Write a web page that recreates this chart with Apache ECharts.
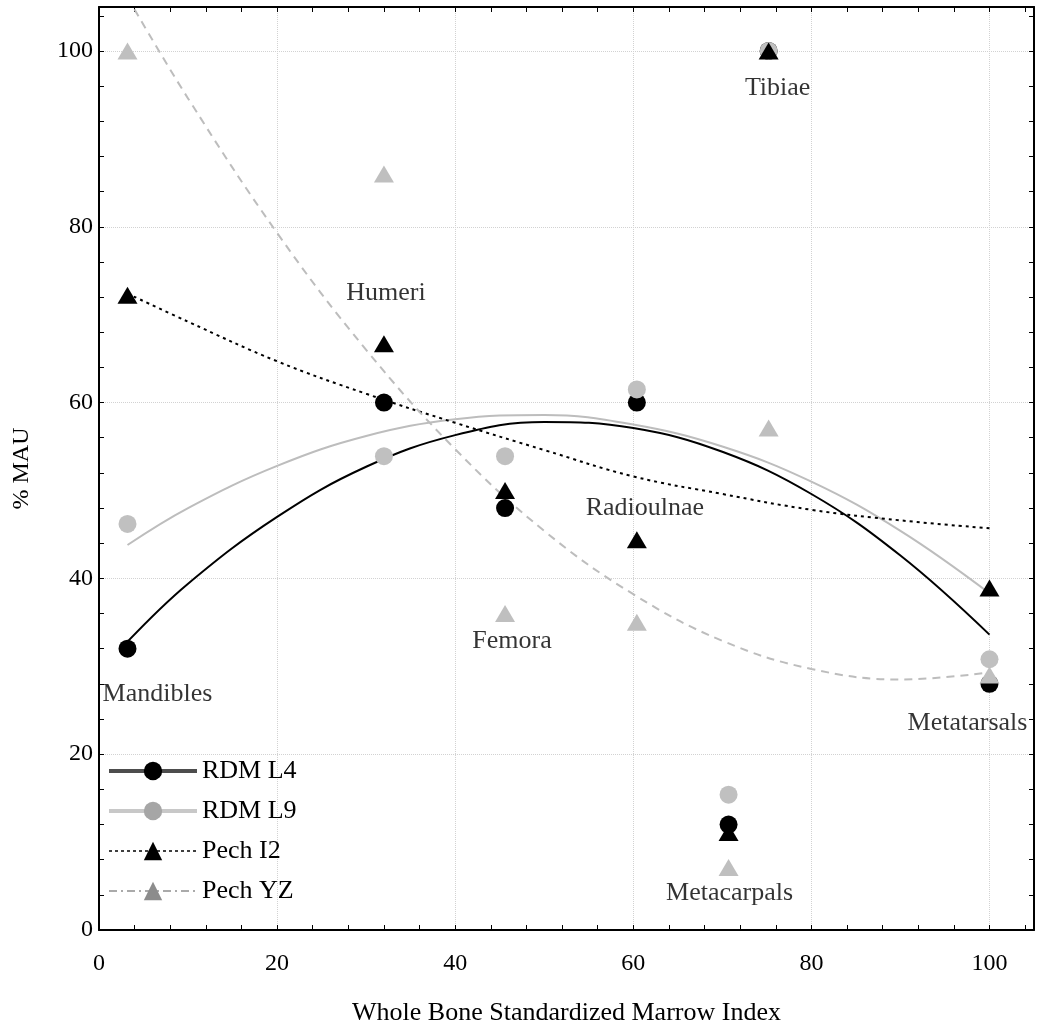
<!DOCTYPE html>
<html>
<head>
<meta charset="utf-8">
<script src="https://cdn.jsdelivr.net/npm/echarts@6/dist/echarts.min.js"></script>
<style>
html,body{margin:0;padding:0;background:#fff;}
#chart{width:1037px;height:1029px;}
</style>
</head>
<body>
<div id="chart"></div>
<script>
// ---- data ----
const bones = ['Mandibles', 'Humeri', 'Femora', 'Radioulnae', 'Metacarpals', 'Tibiae', 'Metatarsals'];
const boneX = [3.2, 32, 45.6, 60.4, 70.7, 75.2, 100];
const rdmL4 = [32, 60, 48, 60, 12, 100, 28];
const rdmL9 = [46.2, 53.9, 53.9, 61.5, 15.4, 100, 30.8];
const pechI2 = [72.2, 66.7, 50, 44.4, 11.1, 100, 38.9];
const pechYZ = [100, 86, 36, 35, 7.1, 57.1, 29];

// trend curves, values at these x positions
const fitX = [3.2, 10, 20, 30, 40, 50, 60, 70, 80, 90, 100];
const fitL4 = [32.8, 39.4, 47.0, 52.7, 56.3, 57.8, 57.1, 54.4, 49.6, 42.6, 33.6];
const fitL9 = [43.8, 48.0, 52.8, 56.2, 58.1, 58.6, 57.5, 55.0, 51.0, 45.4, 38.3];
const fitI2 = [72.4, 69.2, 64.7, 61.0, 57.7, 54.6, 51.6, 49.6, 47.8, 46.6, 45.7];
const fitYZ = [106.1, 94.6, 79.3, 66.0, 54.7, 45.4, 38.2, 32.9, 29.7, 28.5, 29.3];

const xTickLabels = [0, 20, 40, 60, 80, 100];
const yTickLabels = [0, 20, 40, 60, 80, 100];
const seriesNames = ['RDM L4', 'RDM L9', 'Pech I2', 'Pech YZ'];

// label anchors (which series point the bone name sits next to)
const labelAnchor = [rdmL4, pechI2, pechYZ, pechI2, pechYZ, pechI2, rdmL4];
const labelOffsets = [[30, 45], [2, -51], [7, 28], [8, -32], [1, 26], [9, 37], [-22, 39]];

const FONT = 'Liberation Serif';
const zip = (xs, ys) => xs.map((x, i) => [x, ys[i]]);

function tickAxis(pos, showLine) {
  return {
    type: 'value', min: 0, max: 105, interval: 4, position: pos,
    axisLine: {show: showLine, onZero: false, lineStyle: {color: '#000', width: 2}},
    axisTick: {show: true, inside: true, length: 5, lineStyle: {color: '#000', width: 1}},
    axisLabel: {show: false},
    splitLine: {show: false},
    silent: true
  };
}

const option = {
  animation: false,
  backgroundColor: '#fff',
  grid: {left: 99, right: 3, top: 7, bottom: 99, containLabel: false, outerBoundsMode: 'none'},
  xAxis: [
    {
      type: 'value', min: 0, max: 105, interval: 20, position: 'bottom',
      axisLine: {show: true, onZero: false, lineStyle: {color: '#000', width: 2}},
      axisTick: {show: false},
      axisLabel: {
        show: true, fontFamily: FONT, fontSize: 24, color: '#000', margin: 22,
        showMaxLabel: false,
        formatter: v => (xTickLabels.indexOf(v) >= 0 ? String(v) : '')
      },
      splitLine: {show: true, lineStyle: {color: '#d2d2d2', type: 'dotted', width: 1}},
      name: 'Whole Bone Standardized Marrow Index',
      nameLocation: 'middle', nameGap: 70,
      nameTextStyle: {fontFamily: FONT, fontSize: 26, color: '#000'}
    },
    tickAxis('bottom', false),
    tickAxis('top', true)
  ],
  yAxis: [
    {
      type: 'value', min: 0, max: 105, interval: 20, position: 'left',
      axisLine: {show: true, onZero: false, lineStyle: {color: '#000', width: 2}},
      axisTick: {show: false},
      axisLabel: {
        show: true, fontFamily: FONT, fontSize: 24, color: '#000', margin: 6,
        showMaxLabel: false,
        formatter: v => (yTickLabels.indexOf(v) >= 0 ? String(v) : '')
      },
      splitLine: {show: true, lineStyle: {color: '#d2d2d2', type: 'dotted', width: 1}},
      name: '% MAU', nameLocation: 'middle', nameGap: 65, nameRotate: 90,
      nameTextStyle: {fontFamily: FONT, fontSize: 24, color: '#000'}
    },
    tickAxis('left', false),
    tickAxis('right', true)
  ],
  legend: {
    left: 102, top: 753, orient: 'vertical',
    itemWidth: 88, itemHeight: 23, itemGap: 14,
    selectedMode: false,
    textStyle: {fontFamily: FONT, fontSize: 26, color: '#000'},
    data: [
      {name: seriesNames[0], itemStyle: {color: '#000', borderWidth: 0},
       lineStyle: {color: '#4d4d4d', width: 4, type: 'solid', opacity: 1}},
      {name: seriesNames[1], itemStyle: {color: '#a6a6a6', borderWidth: 0},
       lineStyle: {color: '#c8c8c8', width: 4, type: 'solid', opacity: 1}},
      {name: seriesNames[2], itemStyle: {color: '#000', borderWidth: 0},
       lineStyle: {color: '#000', width: 1.5, type: [3, 3], opacity: 1}},
      {name: seriesNames[3], itemStyle: {color: '#8c8c8c', borderWidth: 0},
       lineStyle: {color: '#aaaaaa', width: 2, type: [8, 4, 2, 4], opacity: 1}}
    ]
  },
  series: [
    // trend curves
    {name: 'fit L4', type: 'line', data: zip(fitX, fitL4), smooth: 0.4, symbol: 'none', silent: true, z: 2,
     lineStyle: {color: '#000', width: 2}},
    {name: 'fit L9', type: 'line', data: zip(fitX, fitL9), smooth: 0.4, symbol: 'none', silent: true, z: 2,
     lineStyle: {color: '#bdbdbd', width: 2}},
    {name: 'fit I2', type: 'line', data: zip(fitX, fitI2), smooth: 0.4, symbol: 'none', silent: true, z: 2,
     lineStyle: {color: '#000', width: 2, type: [3, 4]}},
    {name: 'fit YZ', type: 'line', data: zip(fitX, fitYZ), smooth: 0.4, symbol: 'none', silent: true, z: 2,
     lineStyle: {color: '#bdbdbd', width: 2, type: [8, 6]}},
    // data points
    {name: seriesNames[0], type: 'line', data: zip(boneX, rdmL4), symbol: 'circle', symbolSize: 18,
     showSymbol: true, showAllSymbol: true, silent: true, z: 3,
     itemStyle: {color: '#000', borderWidth: 0}, lineStyle: {width: 0, opacity: 0}},
    {name: seriesNames[1], type: 'line', data: zip(boneX, rdmL9), symbol: 'circle', symbolSize: 18,
     showSymbol: true, showAllSymbol: true, silent: true, z: 3,
     itemStyle: {color: '#c0c0c0', borderWidth: 0}, lineStyle: {width: 0, opacity: 0}},
    {name: seriesNames[2], type: 'line', data: zip(boneX, pechI2), symbol: 'triangle', symbolSize: [20, 17],
     showSymbol: true, showAllSymbol: true, silent: true, z: 3,
     itemStyle: {color: '#000', borderWidth: 0}, lineStyle: {width: 0, opacity: 0}},
    {name: seriesNames[3], type: 'line', data: zip(boneX, pechYZ), symbol: 'triangle', symbolSize: [20, 17],
     showSymbol: true, showAllSymbol: true, silent: true, z: 3,
     itemStyle: {color: '#bfbfbf', borderWidth: 0}, lineStyle: {width: 0, opacity: 0}},
    // bone names
    {name: 'labels', type: 'scatter', symbolSize: 0, silent: true, z: 10,
     data: bones.map((b, i) => ({name: b, value: [boneX[i], labelAnchor[i][i]], label: {offset: labelOffsets[i]}})),
     label: {show: true, position: 'inside', formatter: '{b}', fontFamily: FONT, fontSize: 26,
             color: '#000', textBorderWidth: 0, textBorderColor: 'transparent'}}
  ]
};

const chart = echarts.init(document.getElementById('chart'), null, {renderer: 'canvas'});
chart.setOption(option);
</script>
</body>
</html>
